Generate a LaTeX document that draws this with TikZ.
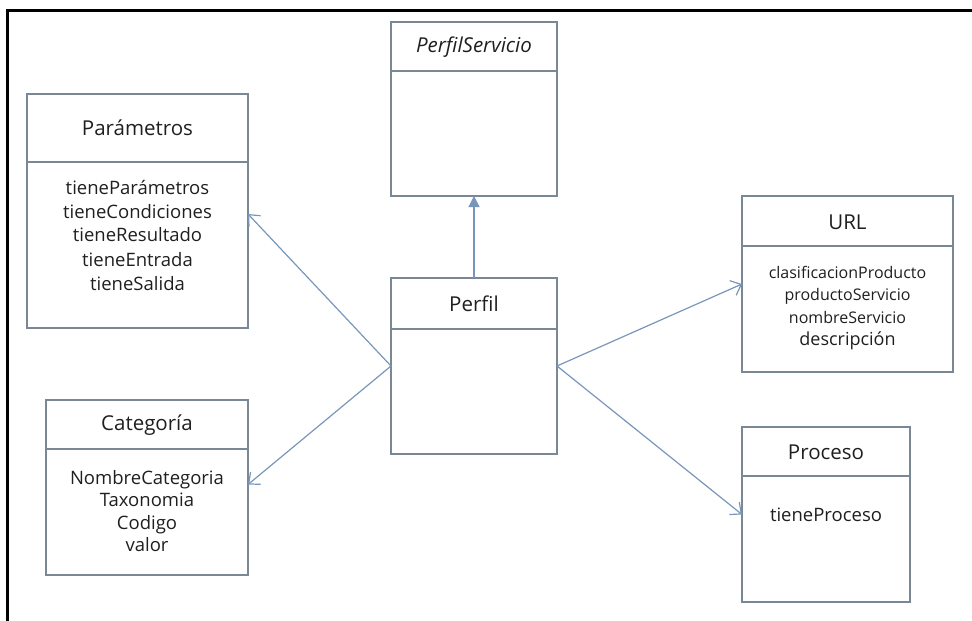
\documentclass[tikz,border=0pt]{standalone}
\usepackage{fontspec}
\setmainfont{Open Sans}
\usetikzlibrary{arrows.meta}

\definecolor{boxline}{HTML}{7A8896}
\definecolor{arrowline}{HTML}{7896BA}
\definecolor{ink}{HTML}{1F1F1F}

\tikzset{
  classbox/.style={draw=boxline, line width=1.2pt, rectangle, inner sep=0pt, outer sep=0pt, anchor=north west},
  divider/.style={draw=boxline, line width=1.2pt},
  title/.style={text=ink, inner sep=0pt, font=\fontsize{20.5}{24}\selectfont},
  attrs/.style={text=ink, inner sep=0pt, align=center, font=\fontsize{18.5}{24}\selectfont},
  assoc/.style={draw=arrowline, line width=1.2pt, -{Straight Barb[length=9pt,width=16pt,line width=1.2pt]}},
  inherit/.style={draw=arrowline, line width=1.2pt, -{Triangle[length=11pt,width=11pt,fill=arrowline]}},
  frame/.style={draw=black, line width=3pt}
}

\begin{document}
\begin{tikzpicture}[x=1pt, y=-1pt]
  \useasboundingbox (0,0) rectangle (972,621);

  % outer frame (top and left edges)
  \coordinate (frameTL) at (7,10);
  \coordinate (frameTR) at (975,10);
  \coordinate (frameBL) at (7,625);
  \draw[frame] (frameTR) -- (frameTL) -- (frameBL);

  % PerfilServicio
  \node[classbox, minimum width=166, minimum height=174] (ps) at (391,22) {};
  \draw[divider] ([yshift=-49pt]ps.north west) -- ([yshift=-49pt]ps.north east);
  \node[title, font=\fontsize{20.5}{24}\selectfont\itshape] (psT) at (474,47) {PerfilServicio};

  % Perfil
  \node[classbox, minimum width=166, minimum height=176] (pf) at (391,278) {};
  \draw[divider] ([yshift=-51pt]pf.north west) -- ([yshift=-51pt]pf.north east);
  \node[title] (pfT) at (474,303.5) {Perfil};

  % Parametros
  \node[classbox, minimum width=221, minimum height=234] (par) at (27,94) {};
  \draw[divider] ([yshift=-68pt]par.north west) -- ([yshift=-68pt]par.north east);
  \node[title] (parT) at (137.5,128) {Parámetros};
  \node[attrs] (parA) at (137.5,235) {tieneParámetros\\tieneCondiciones\\tieneResultado\\tieneEntrada\\tieneSalida};

  % Categoria
  \node[classbox, minimum width=202, minimum height=175] (cat) at (46,400) {};
  \draw[divider] ([yshift=-49pt]cat.north west) -- ([yshift=-49pt]cat.north east);
  \node[title] (catT) at (147,425) {Categoría};
  \node[attrs, font=\fontsize{18.5}{22.3}\selectfont] (catA) at (147,511) {NombreCategoria\\Taxonomia\\Codigo\\valor};

  % URL
  \node[classbox, minimum width=211, minimum height=176] (url) at (742,196) {};
  \draw[divider] ([yshift=-50pt]url.north west) -- ([yshift=-50pt]url.north east);
  \node[title] (urlT) at (847.5,222) {URL};
  \node[attrs, font=\fontsize{16}{22.5}\selectfont] (urlA) at (847.5,308)
    {clasificacionProducto\\productoServicio\\nombreServicio\\{\fontsize{18}{22.5}\selectfont descripción}};

  % Proceso
  \node[classbox, minimum width=168, minimum height=175] (proc) at (742,427) {};
  \draw[divider] ([yshift=-49pt]proc.north west) -- ([yshift=-49pt]proc.north east);
  \node[title] (procT) at (826,452) {Proceso};
  \node[attrs] (procA) at (826,515) {tieneProceso};

  % connectors
  \draw[inherit] (pf.north) -- (ps.south);
  \draw[assoc] (pf.west) -- ([yshift=-3pt]par.east);
  \draw[assoc] (pf.west) -- ([yshift=3pt]cat.east);
  \draw[assoc] (pf.east) -- (url.west);
  \draw[assoc] (pf.east) -- (proc.west);
\end{tikzpicture}
\end{document}
